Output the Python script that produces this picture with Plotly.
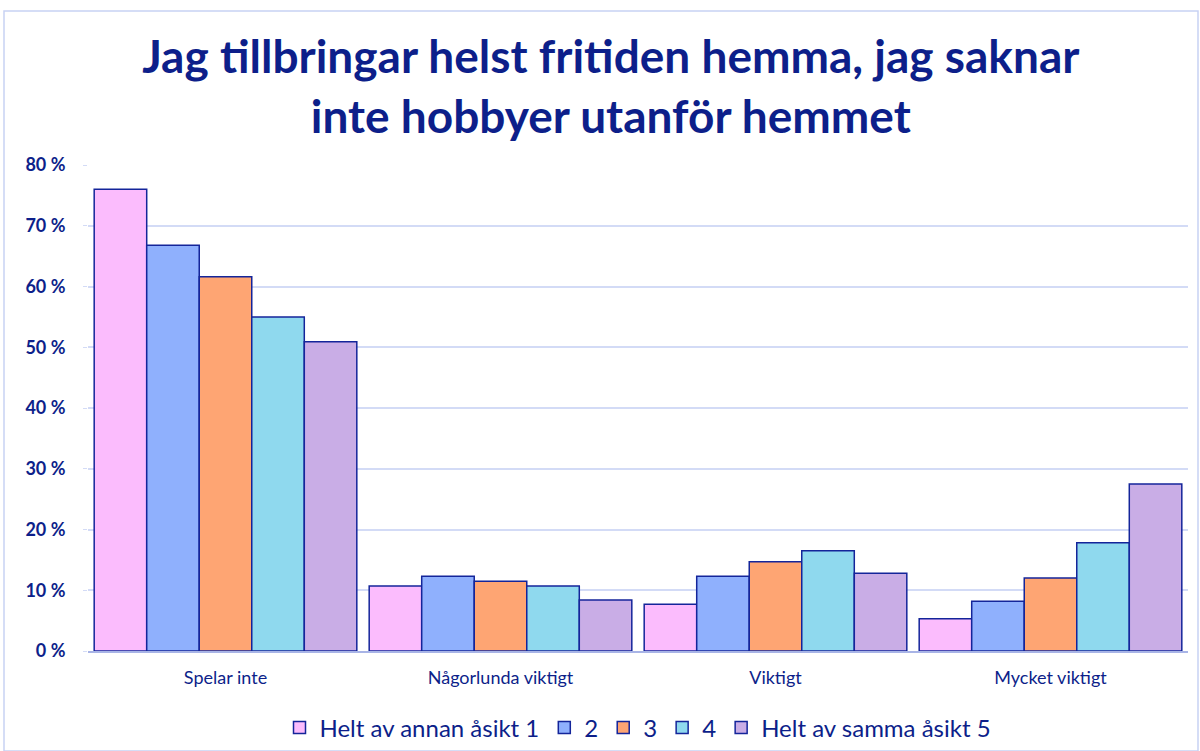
import plotly.graph_objects as go

categories = ["Spelar inte", "Någorlunda viktigt", "Viktigt", "Mycket viktigt"]
series_names = ["Helt av annan åsikt 1", "2", "3", "4", "Helt av samma åsikt 5"]
s1 = [76.0, 10.7, 7.7, 5.3]
s2 = [66.8, 12.3, 12.3, 8.2]
s3 = [61.6, 11.5, 14.7, 12.0]
s4 = [55.0, 10.7, 16.5, 17.8]
s5 = [50.9, 8.4, 12.8, 27.5]
series_values = [s1, s2, s3, s4, s5]
colors = ["#fbbcfd", "#8fb0fd", "#fea573", "#8fd9ee", "#c9ade6"]
tick_vals = [0, 10, 20, 30, 40, 50, 60, 70, 80]
tick_text = ["0 %", "10 %", "20 %", "30 %", "40 %", "50 %", "60 %", "70 %", "80 %"]

navy = "#0d1f8a"
fig = go.Figure()
for name, vals, col in zip(series_names, series_values, colors):
    fig.add_trace(go.Bar(
        x=categories, y=vals, name=name,
        marker=dict(color=col, line=dict(color="#14259a", width=1.5)),
    ))

fig.update_layout(
    width=1200, height=751,
    barmode="group", bargap=0.045, bargroupgap=0,
    plot_bgcolor="white", paper_bgcolor="white",
    margin=dict(l=88, r=12, t=165, b=100, autoexpand=False),
    title=dict(
        text="<b>Jag tillbringar helst fritiden hemma, jag saknar<br>inte hobbyer utanför hemmet</b>",
        x=0.509, xanchor="center", y=0.903, yanchor="top",
        font=dict(family="Lato", size=46, color=navy),
    ),
    font=dict(family="Lato", color=navy),
    showlegend=True,
    legend=dict(
        orientation="h", x=0.5, xanchor="center", y=-0.112, yanchor="top",
        font=dict(family="Lato", size=24, color=navy),
        itemwidth=30, traceorder="normal",
    ),
    yaxis=dict(
        range=[0, 80], tickvals=tick_vals, ticktext=tick_text,
        showgrid=True, gridcolor="#d3dbf6", gridwidth=1.5,
        tickfont=dict(family="Lato", size=18, color=navy, weight="bold"),
        ticks="outside", ticklen=4, tickcolor="#d3dbf6",
        ticklabelstandoff=14,
        zeroline=False, showline=False,
    ),
    xaxis=dict(
        showline=True, linecolor="#a8b4e6", linewidth=2,
        tickfont=dict(family="Lato", size=18, color=navy),
        ticks="", ticklabelstandoff=9,
    ),
    shapes=[dict(
        type="rect", xref="paper", yref="paper",
        x0=-84/1100, x1=1.0 + 10/1100, y0=-100/486, y1=1.0 + 154/486,
        line=dict(color="#c8d2f4", width=1.5), fillcolor="rgba(0,0,0,0)",
        layer="below",
    )],
)

fig.write_html("out.html", config={"displayModeBar": False},
               post_script="document.body.style.margin='0';")
